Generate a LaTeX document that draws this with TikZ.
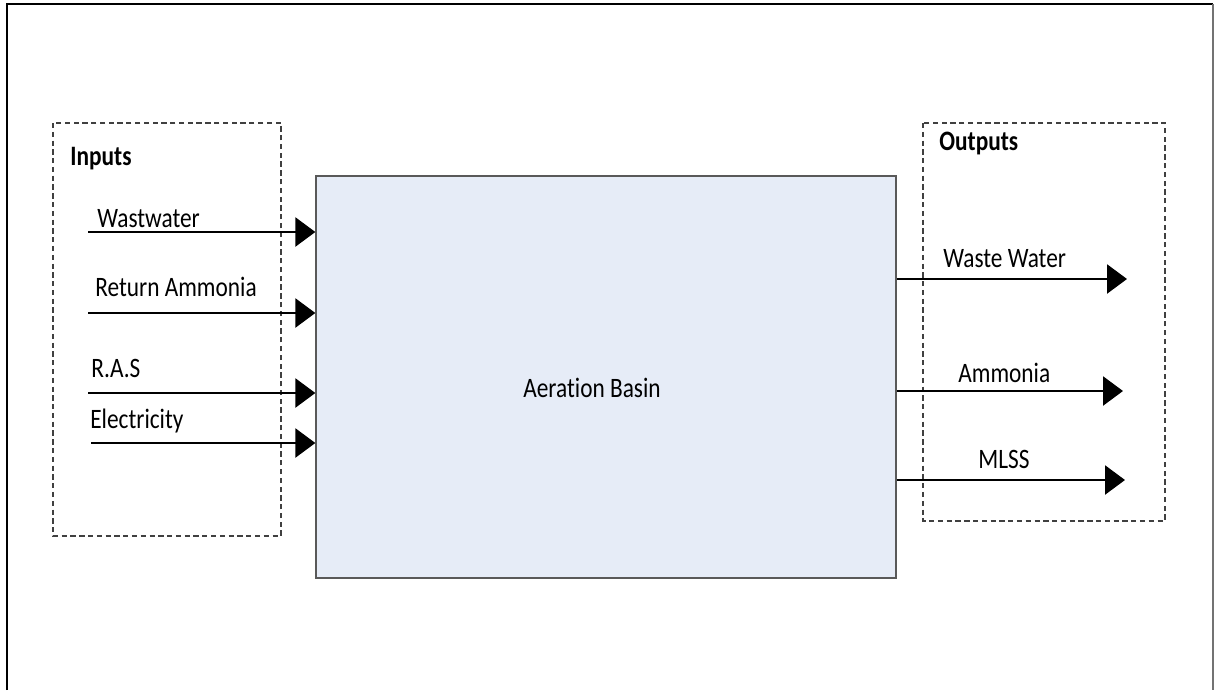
\documentclass[tikz,border=0pt]{standalone}
\usepackage{fontspec}
\setmainfont{Carlito}[FakeStretch=0.83,Ligatures=NoCommon]
\usetikzlibrary{arrows.meta}
\definecolor{basinblue}{RGB}{230,236,247}

\tikzset{
  flow/.style={line width=1.4pt,-{Triangle[length=0.4cm,width=0.58cm]}},
  groupbox/.style={draw=black!75,line width=0.6pt,dash pattern=on 3pt off 2pt},
  basinbox/.style={draw=black!65,line width=0.8pt,fill=basinblue,inner sep=0pt},
  flowtext/.style={anchor=base west,inner sep=0pt,font=\fontsize{16}{19}\selectfont},
  heading/.style={flowtext,font=\fontsize{16}{19}\selectfont\bfseries}
}

\begin{document}
\begin{tikzpicture}[x=0.02cm,y=-0.02cm]
   \useasboundingbox (0,0) rectangle (1214,690);
   % frame
   \draw[line width=1.2pt] (7,690) -- (7,4) -- (1213,4);
   \draw[black!55,line width=0.9pt] (1213,4) -- (1213,690);
   % basin
   \node (basin) [basinbox,minimum width=11.6cm,minimum height=8.04cm] at (606,377) {};
   \node (basinname) [flowtext] at (523,397) {Aeration Basin};
   \begin{scope}
    \draw[groupbox] (53,123) rectangle (281,536);
    \node (inputs) [heading] at (70,165) {Inputs};
    \coordinate (ww)   at (88,232);
    \coordinate (ra)   at (88,313);
    \coordinate (ras)  at (88,393);
    \coordinate (elec) at (91,443);
    \draw[flow] (ww)   -- (ww -| basin.west);
    \draw[flow] (ra)   -- (ra -| basin.west);
    \draw[flow] (ras)  -- (ras -| basin.west);
    \draw[flow] (elec) -- (elec -| basin.west);
    \node (wwtext)   [flowtext] at (97,227) {Wastwater};
    \node (ratext)   [flowtext] at (95,296) {Return Ammonia};
    \node (rastext)  [flowtext] at (91,377) {R.A.S};
    \node (electext) [flowtext] at (90,428) {Electricity};
   \end{scope}
   \begin{scope}
    \draw[groupbox] (923,123) rectangle (1165,521);
    \node (outputs) [heading] at (939,150) {Outputs};
    \coordinate (wwout)  at (1127,279);
    \coordinate (amout)  at (1123,391);
    \coordinate (mlss)   at (1125,480);
    \draw[flow] (wwout -| basin.east) -- (wwout);
    \draw[flow] (amout -| basin.east) -- (amout);
    \draw[flow] (mlss -| basin.east)  -- (mlss);
    \node (wwouttext) [flowtext] at (943,267) {Waste Water};
    \node (amouttext) [flowtext] at (958,382) {Ammonia};
    \node (mlsstext)  [flowtext] at (978,468) {MLSS};
   \end{scope}
\end{tikzpicture}
\end{document}
